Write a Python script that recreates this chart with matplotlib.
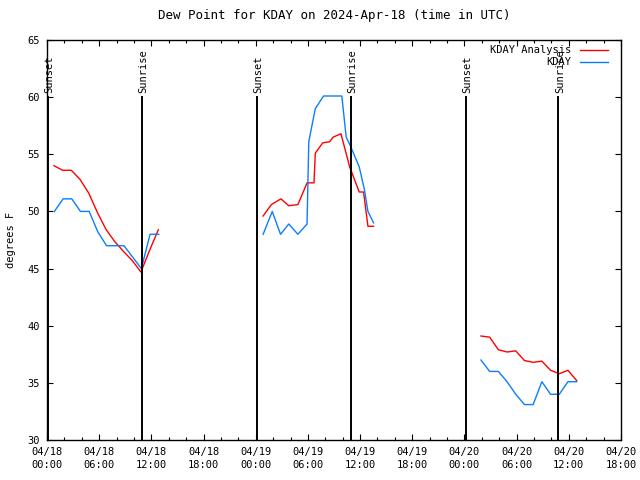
import matplotlib
matplotlib.use("Agg")
import matplotlib.pyplot as plt
from matplotlib.ticker import MultipleLocator

# hours since 2024-04-18 00:00 UTC
ana_hours = [0.8, 1.8, 2.8, 3.8, 4.8, 5.8, 6.8, 7.8, 8.8, 9.8, 10.8, 11.8, 12.8,
             None,
             24.85, 25.8, 26.9, 27.8, 28.85, 29.9, 30.7, 30.85, 31.7, 32.5, 32.9,
             33.8, 34.8, 35.9, 36.4, 36.9, 37.55,
             None,
             49.9, 50.9, 51.9, 52.9, 53.9, 54.9, 55.9, 56.9, 57.9, 58.9, 59.9, 60.9]
ana_dewpt = [54.0, 53.6, 53.6, 52.8, 51.6, 49.9, 48.4, 47.35, 46.5, 45.7, 44.7, 46.6, 48.4,
             None,
             49.6, 50.6, 51.1, 50.5, 50.6, 52.5, 52.5, 55.1, 56.0, 56.1, 56.5,
             56.8, 53.9, 51.7, 51.7, 48.7, 48.7,
             None,
             39.1, 39.0, 37.9, 37.7, 37.8, 36.95, 36.8, 36.9, 36.1, 35.8, 36.1, 35.2]

obs_hours = [0.85, 1.85, 2.85, 3.85, 4.85, 5.85, 6.85, 7.85, 8.85, 9.85, 10.85, 11.85, 12.85,
             None,
             24.85, 25.9, 26.85, 27.8, 28.85, 29.9, 30.1, 30.85, 31.8, 33.9, 34.4,
             34.85, 35.9, 36.5, 36.9, 37.55,
             None,
             49.9, 50.9, 51.9, 52.9, 53.9, 54.9, 55.9, 56.9, 57.9, 58.9, 59.9, 60.9]
obs_dewpt = [50.0, 51.1, 51.1, 50.0, 50.0, 48.2, 47.0, 47.0, 47.0, 46.0, 45.0, 48.0, 48.0,
             None,
             48.0, 50.0, 48.0, 48.9, 48.0, 48.9, 56.1, 59.0, 60.1, 60.1, 56.5,
             55.8, 53.9, 51.9, 50.0, 49.0,
             None,
             37.0, 36.0, 36.0, 35.1, 34.0, 33.1, 33.1, 35.1, 34.0, 34.0, 35.1, 35.1]

sun_events = [(0.15, "Sunset"), (10.9, "Sunrise"), (24.15, "Sunset"),
              (34.9, "Sunrise"), (48.2, "Sunset"), (58.8, "Sunrise")]

tick_hours = [0, 6, 12, 18, 24, 30, 36, 42, 48, 54, 60, 66]
tick_labels = ["04/18\n00:00", "04/18\n06:00", "04/18\n12:00", "04/18\n18:00",
               "04/19\n00:00", "04/19\n06:00", "04/19\n12:00", "04/19\n18:00",
               "04/20\n00:00", "04/20\n06:00", "04/20\n12:00", "04/20\n18:00"]


def clean(xs, ys):
    # None marks a data gap
    return ([float("nan") if v is None else v for v in xs],
            [float("nan") if v is None else v for v in ys])


plt.rcParams["font.family"] = ["DejaVu Sans Mono"]
plt.rcParams["font.size"] = 7.5

fig = plt.figure(figsize=(6.4, 4.8), dpi=100)
ax = fig.add_axes([47 / 640, 40 / 480, 574 / 640, 400 / 480])

x, y = clean(ana_hours, ana_dewpt)
ax.plot(x, y, color="#ff0000", lw=1.0, label="KDAY Analysis")
x, y = clean(obs_hours, obs_dewpt)
ax.plot(x, y, color="#0a7eff", lw=1.0, label="KDAY")

for h, name in sun_events:
    ax.plot([h, h], [30, 60], color="black", lw=1.4)
    ax.annotate(name, (h, 60), xytext=(1, 3), textcoords="offset points",
                rotation=90, ha="center", va="bottom")

ax.set_xlim(0, 66)
ax.set_ylim(30, 65)
ax.set_xticks(tick_hours)
ax.set_xticklabels(tick_labels, linespacing=1.35)
ax.xaxis.set_minor_locator(MultipleLocator(2))
ax.set_yticks(range(30, 66, 5))
ax.tick_params(which="both", direction="in", top=True, right=True, width=0.8)
ax.tick_params(which="major", length=4.5, pad=5)
ax.tick_params(which="minor", length=2.5)
for s in ax.spines.values():
    s.set_linewidth(1.0)

ax.set_ylabel("degrees F", labelpad=8)
ax.set_title("Dew Point for KDAY on 2024-Apr-18 (time in UTC)", pad=15)

ax.legend(loc="upper right", bbox_to_anchor=(1 - 8 / 574, 1), frameon=False,
          markerfirst=False, handlelength=2.7, handletextpad=0.8,
          labelspacing=0.2, borderaxespad=0.3, borderpad=0.2)

fig.savefig("out.png", dpi=100)
